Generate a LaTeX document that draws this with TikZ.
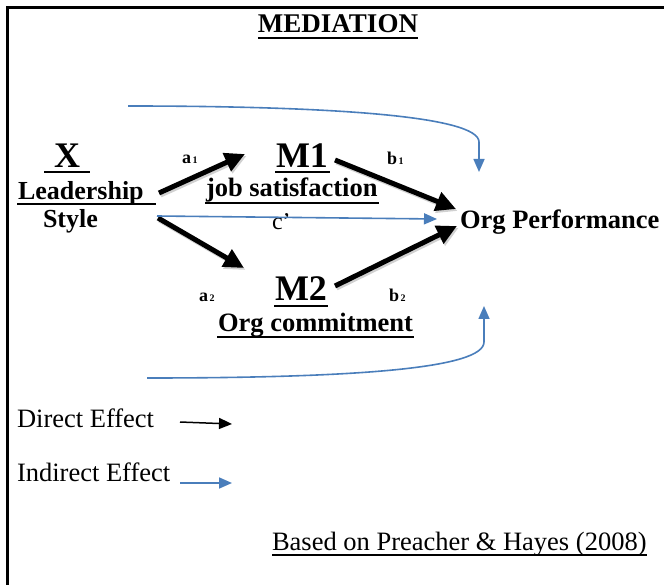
\documentclass[tikz,border=0pt]{standalone}
\usepackage{fontspec}
\setmainfont{Liberation Serif}
\usetikzlibrary{arrows.meta}
\definecolor{ieblue}{RGB}{74,126,187}
\begin{document}
\begin{tikzpicture}[x=1pt,y=-1pt,inner sep=0pt,outer sep=0pt,
  txt/.style={font=\fontsize{26.5}{28}\selectfont},
  lbl/.style={font=\fontsize{26.5}{28}\selectfont\bfseries},
  big/.style={font=\fontsize{36}{38}\selectfont\bfseries},
  ttl/.style={font=\fontsize{27}{29}\selectfont\bfseries},
  sml/.style={font=\fontsize{18}{20}\selectfont\bfseries},
  ul/.style={line width=2.5pt},
  direct/.style={line width=5pt,-{Triangle[length=20pt,width=19pt]}},
  shadow/.style={line width=5pt,black,opacity=0.18,-{Triangle[length=20pt,width=19pt]}},
  indirect/.style={draw=ieblue,line width=1.6pt,-{Triangle[length=13pt,width=11pt]}},
  legdirect/.style={line width=1.5pt,-{Triangle[length=13pt,width=11pt]}}
]
\useasboundingbox (0,0) rectangle (664,585);
\fill[white] (0,0) rectangle (664,585);
\draw[line width=3pt] (7.5,585) -- (7.5,7.5) -- (664,7.5);

% title
\node[ttl,anchor=base] (title) at (338,33) {MEDIATION};
\draw[ul] ([yshift=-5pt]title.base west) -- ([yshift=-5pt]title.base east);

% X block
\node[big,anchor=base] (X) at (67,168) {X};
\draw[ul] ([xshift=-10pt,yshift=-4pt]X.base west) -- ([xshift=10pt,yshift=-4pt]X.base east);
\node[lbl,font=\fontsize{26}{28}\selectfont\bfseries,anchor=base west] (lead) at (18,200) {Leadership};
\draw[ul] ([xshift=-1pt,yshift=-4pt]lead.base west) -- ([xshift=12pt,yshift=-4pt]lead.base east);
\node[lbl,font=\fontsize{26}{28}\selectfont\bfseries,anchor=base west] (style) at (43,228) {Style};

% M1 block
\node[big,anchor=base west] (M1) at (276,168) {M1};
\draw[ul] ([xshift=-1pt,yshift=-4pt]M1.base west) -- ([xshift=2pt,yshift=-4pt]M1.base east);
\node[lbl,anchor=base west] (job) at (206,197) {job satisfaction};
\draw[ul] ([xshift=-1pt,yshift=-6pt]job.base west) -- ([xshift=1pt,yshift=-6pt]job.base east);

% M2 block
\node[big,anchor=base west] (M2) at (275,301) {M2};
\draw[ul] ([xshift=-1pt,yshift=-5pt]M2.base west) -- ([xshift=1pt,yshift=-5pt]M2.base east);
\node[lbl,anchor=base west] (com) at (218,332) {Org commitment};
\draw[ul] ([xshift=-1pt,yshift=-5pt]com.base west) -- ([xshift=1pt,yshift=-5pt]com.base east);

% outcome
\node[lbl,anchor=base west] (perf) at (460,229) {Org Performance};

% path labels
\node[sml,anchor=base west] (a1) at (182,164) {a\fontsize{10}{10}\selectfont\,1};
\node[sml,anchor=base west] (b1) at (387,165) {b\fontsize{10}{10}\selectfont\,1};
\node[sml,anchor=base west] (a2) at (199,302) {a\fontsize{10}{10}\selectfont\,2};
\node[sml,anchor=base west] (b2) at (389,302) {b\fontsize{10}{10}\selectfont\,2};
\node[font=\fontsize{24}{26}\selectfont,anchor=base west] (cp) at (272,230) {c’};

% arrow end points
\coordinate (a1s) at (159,193);
\coordinate (a1e) at (245,154);
\coordinate (a2s) at (158,218);
\coordinate (a2e) at (244,268);
\coordinate (b1s) at (335,160);
\coordinate (b1e) at (456,209);
\coordinate (b2s) at (335,286);
\coordinate (b2e) at (457,226);
\coordinate (cs) at (157,216);
\coordinate (ce) at (437,219);
\coordinate (ts) at (128,106);
\coordinate (te) at (479,172);
\coordinate (bs) at (147,378);
\coordinate (be) at (484,306);

% shadows
\foreach \s/\e in {a1s/a1e,a2s/a2e,b1s/b1e,b2s/b2e}
  \draw[shadow] ([xshift=1.5pt,yshift=-2pt]\s) -- ([xshift=1.5pt,yshift=-2pt]\e);

% direct (black) arrows
\draw[direct] (a1s) -- (a1e);
\draw[direct] (a2s) -- (a2e);
\draw[direct] (b1s) -- (b1e);
\draw[direct] (b2s) -- (b2e);

% indirect (blue) arrows
\draw[indirect] (cs) -- (ce);
\draw[indirect] (ts) .. controls (330,106) and (479,116) .. (479,142) -- (te);
\draw[indirect] (bs) .. controls (360,378) and (484,368) .. (484,342) -- (be);

% legend
\node[txt,anchor=base west] (dir) at (17,427) {Direct Effect};
\coordinate (ld1) at (180,422);
\coordinate (ld2) at (232,424);
\draw[legdirect] (ld1) -- (ld2);
\node[txt,anchor=base west] (ind) at (17,481) {Indirect Effect};
\coordinate (li1) at (180,483);
\coordinate (li2) at (232,483);
\draw[indirect] (li1) -- (li2);

% source
\node[font=\fontsize{26.5}{28}\selectfont,anchor=base west] (src) at (272,550) {Based on Preacher \& Hayes (2008)};
\draw[line width=2pt] ([yshift=-5pt]src.base west) -- ([yshift=-5pt]src.base east);
\end{tikzpicture}
\end{document}
